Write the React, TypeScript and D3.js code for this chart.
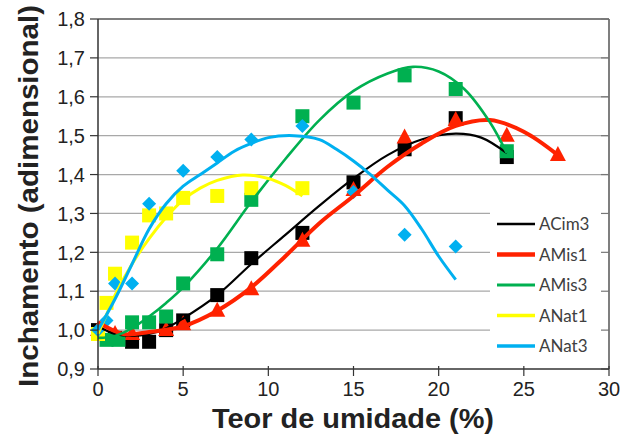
import React from 'react';
import * as d3 from 'd3';

// series, in legend order
const seriesNames = ['ACim3', 'AMis1', 'AMis3', 'ANat1', 'ANat3'];
const seriesColors = ['#000000', '#ff2200', '#00b050', '#ffff00', '#00b0f0'];
const seriesShapes = ['square', 'triangle', 'square', 'square', 'diamond'];
const lineWidths = [2.2, 4, 2.6, 3, 3];

// measured points [teor de umidade %, inchamento]
const acim3Points = [[0, 1.0], [1, 0.98], [2, 0.97], [3, 0.97], [4, 1.0], [5, 1.025], [7, 1.09], [9, 1.185], [12, 1.25], [15, 1.38], [18, 1.465], [21, 1.545], [24, 1.445]];
const amis1Points = [[0, 1.0], [1, 0.99], [2, 0.99], [4, 1.0], [5, 1.015], [7, 1.05], [9, 1.105], [12, 1.23], [15, 1.36], [18, 1.495], [21, 1.54], [24, 1.5], [27, 1.45]];
const amis3Points = [[0.5, 0.975], [1.2, 0.975], [2, 1.02], [3, 1.02], [4, 1.035], [5, 1.12], [7, 1.195], [9, 1.335], [12, 1.55], [15, 1.585], [18, 1.655], [21, 1.62], [24, 1.46]];
const anat1Points = [[0, 0.99], [0.5, 1.07], [1, 1.145], [2, 1.225], [3, 1.295], [4, 1.3], [5, 1.34], [7, 1.345], [9, 1.365], [12, 1.365]];
const anat3Points = [[0, 1.0], [0.5, 1.025], [1, 1.12], [2, 1.12], [3, 1.325], [5, 1.41], [7, 1.445], [9, 1.49], [12, 1.525], [15, 1.355], [18, 1.245], [21, 1.215]];

// trend lines
const acim3Trend = [[0, 1.01], [1, 0.99], [2, 0.985], [3, 0.99], [4, 1.005], [5, 1.03], [7, 1.09], [9, 1.17], [11, 1.245], [13, 1.32], [15, 1.39], [17, 1.45], [19, 1.49], [21, 1.505], [22.5, 1.495], [24, 1.455]];
const amis1Trend = [[0, 1.02], [1.5, 0.99], [3, 0.995], [5, 1.01], [7, 1.05], [9, 1.11], [11, 1.19], [13, 1.275], [15, 1.345], [17, 1.42], [19, 1.48], [21, 1.525], [23, 1.54], [25, 1.51], [27, 1.45]];
const amis3Trend = [[0, 0.98], [1, 0.985], [2, 1.005], [3, 1.035], [4, 1.07], [5, 1.11], [7, 1.21], [9, 1.33], [11, 1.44], [13, 1.54], [15, 1.615], [17, 1.66], [18.5, 1.677], [20, 1.665], [21.5, 1.62], [23, 1.535], [24, 1.455]];
const anat1Trend = [[0, 0.99], [0.5, 1.04], [1, 1.09], [2, 1.17], [3, 1.235], [4, 1.29], [5, 1.335], [6, 1.365], [7, 1.385], [8.5, 1.399], [10, 1.39], [11, 1.372], [12, 1.345]];
const anat3Trend = [[0, 1.0], [1, 1.08], [2, 1.17], [3, 1.26], [4, 1.325], [5, 1.37], [6, 1.4], [7, 1.43], [8, 1.46], [9, 1.48], [10, 1.495], [11.5, 1.5], [13, 1.49], [14, 1.465], [15, 1.435], [16, 1.4], [17, 1.36], [18, 1.32], [19, 1.26], [20, 1.19], [21, 1.13]];

const pointSets = [acim3Points, amis1Points, amis3Points, anat1Points, anat3Points];
const trendSets = [acim3Trend, amis1Trend, amis3Trend, anat1Trend, anat3Trend];

const xTicks = [0, 5, 10, 15, 20, 25, 30];
const yTicks = [0.9, 1.0, 1.1, 1.2, 1.3, 1.4, 1.5, 1.6, 1.7, 1.8];

export default function App() {
  const width = 630;
  const height = 437;
  const margin = { top: 19, right: 21, bottom: 68, left: 98 };
  const innerW = width - margin.left - margin.right;
  const innerH = height - margin.top - margin.bottom;

  const x = d3.scaleLinear().domain([0, 30]).range([0, innerW]);
  const y = d3.scaleLinear().domain([0.9, 1.8]).range([innerH, 0]);
  const fmt = (v: number) => d3.format('.1f')(v).replace('.', ',');

  const line = d3.line<number[]>()
    .x(d => x(d[0]))
    .y(d => y(d[1]))
    .curve(d3.curveCatmullRom.alpha(0.5));

  const marker = (shape: string, cx: number, cy: number, color: string, key: string) => {
    if (shape === 'square') {
      return <rect key={key} x={cx - 7} y={cy - 7} width={14} height={14} fill={color} />;
    }
    if (shape === 'triangle') {
      const p = `${cx},${cy - 9} ${cx + 8},${cy + 6} ${cx - 8},${cy + 6}`;
      return <polygon key={key} points={p} fill={color} />;
    }
    const p = `${cx},${cy - 7} ${cx + 7},${cy} ${cx},${cy + 7} ${cx - 7},${cy}`;
    return <polygon key={key} points={p} fill={color} />;
  };

  const legendX = 490 - margin.left;
  const legendTop = 203 - margin.top;

  return (
    <svg width={width} height={height} style={{ position: 'absolute', left: 0, top: 0, background: '#fff' }}
      fontFamily="'Liberation Sans', Arial, sans-serif">
      <g transform={`translate(${margin.left},${margin.top})`}>
        {/* gridlines */}
        {yTicks.slice(1, -1).map(t => (
          <line key={t} x1={0} x2={innerW} y1={y(t)} y2={y(t)} stroke="#a8a8a8" strokeWidth={1.2} />
        ))}
        {/* legend background */}
        <rect x={legendX} y={legendTop} width={innerW - legendX - 1} height={y(0.9) - legendTop - 6} fill="#fff" />

        {/* frame */}
        <line x1={0} x2={innerW} y1={0} y2={0} stroke="#555" strokeWidth={1.5} />
        <line x1={innerW} x2={innerW} y1={0} y2={innerH} stroke="#555" strokeWidth={1.5} />
        {yTicks.map(t => (
          <line key={'r' + t} x1={innerW - 8} x2={innerW} y1={y(t)} y2={y(t)} stroke="#777" strokeWidth={1.2} />
        ))}

        {/* markers */}
        {pointSets.map((pts, i) =>
          pts.map((d, j) => marker(seriesShapes[i], x(d[0]), y(d[1]), seriesColors[i], `${i}-${j}`))
        )}

        {/* trend lines */}
        {trendSets.map((pts, i) => (
          <path key={'t' + i} d={line(pts) || ''} fill="none" stroke={seriesColors[i]} strokeWidth={lineWidths[i]} />
        ))}

        {/* axes */}
        <line x1={0} x2={0} y1={0} y2={innerH} stroke="#333" strokeWidth={1.5} />
        <line x1={0} x2={innerW} y1={innerH} y2={innerH} stroke="#333" strokeWidth={1.5} />
        {yTicks.map(t => (
          <g key={'y' + t}>
            <line x1={-8} x2={0} y1={y(t)} y2={y(t)} stroke="#333" strokeWidth={1.2} />
            <text x={-13} y={y(t)} dy="0.36em" textAnchor="end" fontSize={20} fill="#222">{fmt(t)}</text>
          </g>
        ))}
        {xTicks.map(t => (
          <g key={'x' + t}>
            <line x1={x(t)} x2={x(t)} y1={innerH - 3} y2={innerH + 7} stroke="#333" strokeWidth={1.2} />
            <text x={x(t)} y={innerH + 27} textAnchor="middle" fontSize={20} fill="#222">{t}</text>
          </g>
        ))}

        {/* legend */}
        {seriesNames.map((name, i) => {
          const ly = 224 + i * 30.5 - margin.top;
          return (
            <g key={name}>
              <line x1={497 - margin.left} x2={535 - margin.left} y1={ly} y2={ly} stroke={seriesColors[i]} strokeWidth={lineWidths[i] + 0.5} />
              <text x={539 - margin.left} y={ly} dy="0.36em" fontSize={17} fontFamily="Lato, sans-serif" fill="#404040">{name}</text>
            </g>
          );
        })}
      </g>

      {/* axis titles */}
      <text x={353} y={428} textAnchor="middle" fontSize={28} fontWeight="bold" fill="#222"
        textLength={282} lengthAdjust="spacingAndGlyphs">Teor de umidade (%)</text>
      <text transform="translate(38,196) rotate(-90)" textAnchor="middle" fontSize={28} fontWeight="bold" fill="#222"
        textLength={382} lengthAdjust="spacingAndGlyphs">Inchamento (adimensional)</text>
    </svg>
  );
}
